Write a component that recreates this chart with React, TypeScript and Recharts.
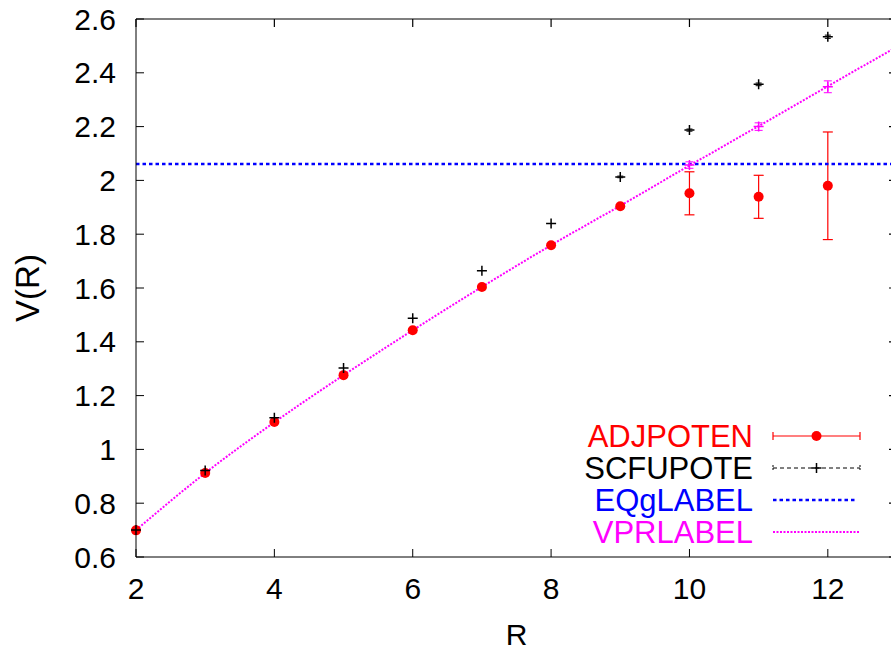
import { ComposedChart, Scatter, Line, XAxis, YAxis, ErrorBar, ReferenceLine, Legend } from 'recharts';

// separation R and the measured potentials
const rValues = [2, 3, 4, 5, 6, 7, 8, 9, 10, 11, 12];
const adjPoten = [0.699, 0.912, 1.102, 1.276, 1.443, 1.604, 1.759, 1.904, 1.952, 1.939, 1.98];
const adjErr = [0, 0, 0, 0, 0, 0, 0, 0, 0.08, 0.08, 0.2];
const scfPote = [0.7, 0.922, 1.118, 1.303, 1.488, 1.664, 1.84, 2.013, 2.187, 2.357, 2.534];
const scfErr = [0, 0, 0, 0, 0, 0, 0, 0.003, 0.004, 0.005, 0.006];

// fitted curve (VPR) read at whole R
const vprR = [2, 3, 4, 5, 6, 7, 8, 9, 10, 11, 12, 13];
const vprValues = [0.7, 0.912, 1.101, 1.276, 1.443, 1.604, 1.759, 1.906, 2.055, 2.202, 2.35, 2.497];

// extra magenta points without a legend entry
const extraR = [10, 11, 12];
const extraV = [2.057, 2.2, 2.348];
const extraErr = [0.012, 0.014, 0.022];

const eqLevel = 2.061;

const xDomain = [2, 13];
const yDomain = [0.6, 2.6];
const xTicks = [2, 4, 6, 8, 10, 12];
const yTicks = [0.6, 0.8, 1, 1.2, 1.4, 1.6, 1.8, 2, 2.2, 2.4, 2.6];

const legendNames = ['ADJPOTEN', 'SCFUPOTE', 'EQgLABEL', 'VPRLABEL'];
const legendColors = ['#ff0000', '#000000', '#0000ff', '#ff00ff'];

const adjData = rValues.map((R, i) => ({ R, v: adjPoten[i], err: adjErr[i] }));
const scfData = rValues.map((R, i) => ({ R, v: scfPote[i], err: scfErr[i] }));
const vprData = vprR.map((R, i) => ({ R, v: vprValues[i] }));
const extraData = extraR.map((R, i) => ({ R, v: extraV[i], err: extraErr[i] }));

// plot box (chart margins + axis sizes below give exactly this)
const CHART_W = 897;
const CHART_H = 650;
const PLOT_LEFT = 136;
const PLOT_TOP = 19;
const PLOT_RIGHT = CHART_W;
const PLOT_BOTTOM = CHART_H - 93;

const RedDot = (p: any) => <circle cx={p.cx} cy={p.cy} r={5} fill="#ff0000" />;

const plus = (color: string) => (p: any) => (
    <path
        d={`M${p.cx - 5},${p.cy}h10M${p.cx},${p.cy - 5}v10`}
        stroke={color}
        strokeWidth={1.5}
        fill="none"
    />
);

// top border and mirrored ticks of the gnuplot frame
function Frame() {
    const sx = (v: number) => PLOT_LEFT + ((v - xDomain[0]) / (xDomain[1] - xDomain[0])) * (PLOT_RIGHT - PLOT_LEFT);
    const sy = (v: number) => PLOT_BOTTOM - ((v - yDomain[0]) / (yDomain[1] - yDomain[0])) * (PLOT_BOTTOM - PLOT_TOP);
    return (
        <svg
            width={CHART_W}
            height={CHART_H}
            style={{ position: 'absolute', left: 0, top: 0, pointerEvents: 'none' }}
        >
            <g stroke="#000" strokeWidth={1.2} fill="none">
                <line x1={PLOT_LEFT} y1={PLOT_TOP} x2={PLOT_RIGHT} y2={PLOT_TOP} />
                <line x1={PLOT_RIGHT} y1={PLOT_TOP} x2={PLOT_RIGHT} y2={PLOT_BOTTOM} />
                {xTicks.map((t) => (
                    <line key={'tx' + t} x1={sx(t)} y1={PLOT_TOP} x2={sx(t)} y2={PLOT_TOP + 8} />
                ))}
                {yTicks.map((t) => (
                    <line key={'ty' + t} x1={PLOT_RIGHT - 8} y1={sy(t)} x2={PLOT_RIGHT} y2={sy(t)} />
                ))}
            </g>
        </svg>
    );
}

function LegendBox() {
    const x0 = 213;
    const x1 = 300;
    const mid = (x0 + x1) / 2;
    return (
        <svg width={320} height={140} style={{ display: 'block' }}>
            {legendNames.map((name, i) => {
                const y = 26 + i * 32;
                const c = legendColors[i];
                return (
                    <g key={name}>
                        <text x={193} y={y + 11} textAnchor="end" fill={c} fontSize={31}>
                            {name}
                        </text>
                        {i === 0 && (
                            <g stroke={c} strokeWidth={1.2}>
                                <line x1={x0} y1={y} x2={x1} y2={y} />
                                <line x1={x0} y1={y - 4} x2={x0} y2={y + 4} />
                                <line x1={x1} y1={y - 4} x2={x1} y2={y + 4} />
                                <circle cx={mid} cy={y} r={5} fill={c} stroke="none" />
                            </g>
                        )}
                        {i === 1 && (
                            <g stroke={c} strokeWidth={1}>
                                <line x1={x0} y1={y} x2={x1} y2={y} strokeDasharray="4 3" />
                                <line x1={x0} y1={y - 3} x2={x0} y2={y + 3} strokeDasharray="2 1" />
                                <line x1={x1} y1={y - 3} x2={x1} y2={y + 3} strokeDasharray="2 1" />
                                <path d={`M${mid - 5},${y}h10M${mid},${y - 5}v10`} strokeWidth={1.5} />
                            </g>
                        )}
                        {i === 2 && (
                            <line x1={x0} y1={y} x2={x1 - 3} y2={y} stroke={c} strokeWidth={2.5} strokeDasharray="3.5 3" />
                        )}
                        {i === 3 && (
                            <line x1={x0} y1={y} x2={x1} y2={y} stroke={c} strokeWidth={2} strokeDasharray="2 1.5" />
                        )}
                    </g>
                );
            })}
        </svg>
    );
}

export default function App() {
    return (
        <div
            style={{
                position: 'absolute',
                left: 0,
                top: 0,
                width: 891,
                height: 650,
                overflow: 'hidden',
                background: '#fff',
                fontFamily: '"Liberation Sans", Arial, sans-serif',
            }}
        >
            <ComposedChart
                width={CHART_W}
                height={CHART_H}
                margin={{ top: PLOT_TOP, right: 0, left: 0, bottom: 0 }}
            >
                <XAxis
                    dataKey="R"
                    type="number"
                    domain={xDomain}
                    ticks={xTicks}
                    interval={0}
                    height={CHART_H - PLOT_BOTTOM}
                    tickSize={-8}
                    tickMargin={29}
                    stroke="#000"
                    tick={{ fill: '#000', fontSize: 30 }}
                    label={{ value: 'R', position: 'insideBottom', offset: 5, fill: '#000', fontSize: 30 }}
                />
                <YAxis
                    type="number"
                    domain={yDomain}
                    ticks={yTicks}
                    interval={0}
                    width={PLOT_LEFT}
                    tickSize={-8}
                    tickMargin={28}
                    stroke="#000"
                    tick={{ fill: '#000', fontSize: 30 }}
                    tickFormatter={(v: number) => String(v)}
                    label={{
                        value: 'V(R)',
                        angle: -90,
                        position: 'insideLeft',
                        offset: 27,
                        fill: '#000',
                        fontSize: 33,
                        style: { textAnchor: 'middle' },
                    }}
                />
                <Scatter data={adjData} dataKey="v" shape={RedDot} isAnimationActive={false}>
                    <ErrorBar dataKey="err" direction="y" width={5} stroke="#ff0000" strokeWidth={1.2} />
                </Scatter>
                <Scatter data={scfData} dataKey="v" shape={plus('#000000')} isAnimationActive={false}>
                    <ErrorBar dataKey="err" direction="y" width={3} stroke="#000000" strokeWidth={1} />
                </Scatter>
                <ReferenceLine y={eqLevel} stroke="#0000ff" strokeWidth={2.5} strokeDasharray="3.5 3" />
                <Scatter data={extraData} dataKey="v" shape={plus('#ff00ff')} isAnimationActive={false}>
                    <ErrorBar dataKey="err" direction="y" width={4} stroke="#ff00ff" strokeWidth={1} />
                </Scatter>
                <Line
                    data={vprData}
                    dataKey="v"
                    type="monotone"
                    stroke="#ff00ff"
                    strokeWidth={2}
                    strokeDasharray="2 1.5"
                    dot={false}
                    activeDot={false}
                    isAnimationActive={false}
                />
                <Legend
                    layout="vertical"
                    align="center"
                    verticalAlign="middle"
                    content={() => <LegendBox />}
                    wrapperStyle={{ left: 560, top: 410, width: 320, height: 140 }}
                />
            </ComposedChart>
            <Frame />
        </div>
    );
}
